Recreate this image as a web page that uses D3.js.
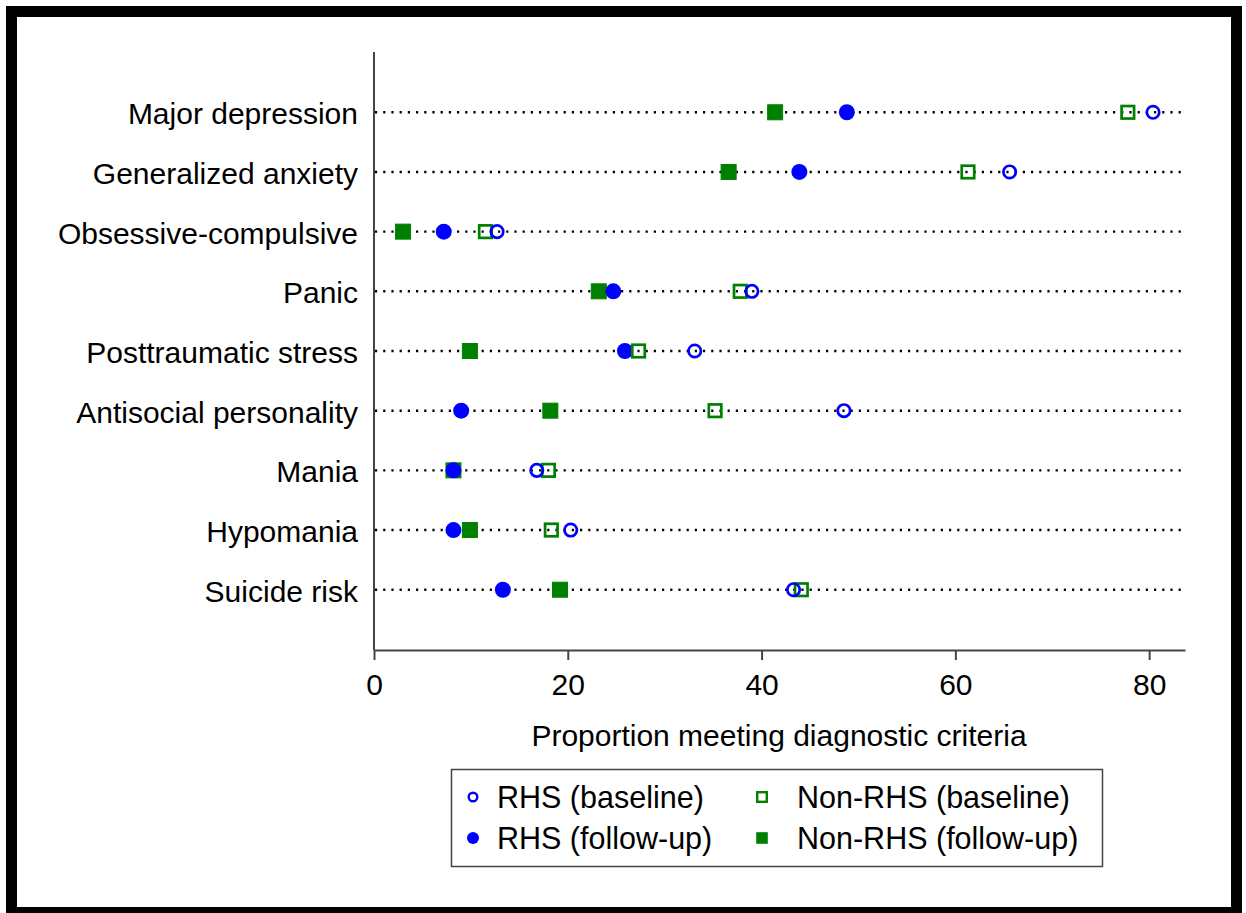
<!DOCTYPE html>
<html>
<head>
<meta charset="utf-8">
<script src="https://cdn.jsdelivr.net/npm/d3@7"></script>
<style>
  html, body { margin: 0; padding: 0; background: #fff; }
  svg { display: block; }
  text { font-family: "Liberation Sans", Arial, sans-serif; fill: #000; }
</style>
</head>
<body>
<svg id="chart" width="1246" height="913"></svg>
<script>
const categories = ["Major depression", "Generalized anxiety", "Obsessive-compulsive", "Panic",
  "Posttraumatic stress", "Antisocial personality", "Mania", "Hypomania", "Suicide risk"];
const rhsBaseline    = [80.4, 65.6, 12.7, 39.0, 33.1, 48.5, 16.8, 20.3, 43.3];
const nonRhsBaseline = [77.8, 61.3, 11.5, 37.8, 27.3, 35.2, 18.0, 18.3, 44.1];
const rhsFollowup    = [48.8, 43.9, 7.2, 24.7, 25.9, 9.0, 8.2, 8.2, 13.3];
const nonRhsFollowup = [41.4, 36.6, 3.0, 23.2, 9.9, 18.2, 8.2, 9.9, 19.2];
const xTicks = [0, 20, 40, 60, 80];
const xTitle = "Proportion meeting diagnostic criteria";
const legendLabels = ["RHS (baseline)", "Non-RHS (baseline)", "RHS (follow-up)", "Non-RHS (follow-up)"];

const BLUE = "#0000ff", GREEN = "#008000";
const svg = d3.select("#chart");

// outer frame
svg.append("rect").attr("x", 11.5).attr("y", 11.5).attr("width", 1225).attr("height", 901)
  .attr("fill", "none").attr("stroke", "#000").attr("stroke-width", 11);

const x = d3.scaleLinear().domain([0, 83.7]).range([374, 1185]);
const y = d3.scalePoint().domain(categories).range([52, 650]).padding(1.01);

// dotted guide lines
svg.append("g").selectAll("line").data(categories).join("line")
  .attr("x1", 375).attr("x2", 1185)
  .attr("y1", d => y(d)).attr("y2", d => y(d))
  .attr("stroke", "#000").attr("stroke-width", 2.4).attr("stroke-dasharray", "2.2,6");

// axes
const xAxis = svg.append("g").attr("transform", "translate(0,650)")
  .call(d3.axisBottom(x).tickValues(xTicks).tickSize(10).tickPadding(14).tickSizeOuter(0));
xAxis.select(".domain").attr("stroke", "#444").attr("stroke-width", 2);
xAxis.selectAll(".tick line").attr("stroke", "#444").attr("stroke-width", 2);
xAxis.selectAll(".tick text").attr("font-size", 30).attr("font-family", "Liberation Sans, Arial, sans-serif").attr("fill", "#000");

const yAxis = svg.append("g").attr("transform", "translate(374,0)")
  .call(d3.axisLeft(y).tickSize(0).tickPadding(16).tickSizeOuter(0));
yAxis.select(".domain").attr("d", "M0,52V650").attr("stroke", "#444").attr("stroke-width", 2);
yAxis.selectAll(".tick text").attr("font-size", 30).attr("dy", "0.38em")
  .attr("font-family", "Liberation Sans, Arial, sans-serif").attr("fill", "#000");

// x title
svg.append("text").attr("x", 779).attr("y", 746).attr("text-anchor", "middle")
  .attr("font-size", 30).text(xTitle);

// markers
const idx = categories.map((c, i) => i);
function squares(vals, filled, side, sw) {
  svg.append("g").selectAll("rect").data(idx).join("rect")
    .attr("x", i => x(vals[i]) - side / 2).attr("y", i => y(categories[i]) - side / 2)
    .attr("width", side).attr("height", side)
    .attr("fill", filled ? GREEN : "none").attr("stroke", GREEN).attr("stroke-width", sw);
}
function circles(vals, filled, r, sw) {
  svg.append("g").selectAll("circle").data(idx).join("circle")
    .attr("cx", i => x(vals[i])).attr("cy", i => y(categories[i])).attr("r", r)
    .attr("fill", filled ? BLUE : "none").attr("stroke", BLUE).attr("stroke-width", sw);
}
squares(nonRhsFollowup, true, 15, 1);
circles(rhsFollowup, true, 8, 0);
squares(nonRhsBaseline, false, 12.5, 2.7);
circles(rhsBaseline, false, 6.2, 2.7);

// legend
const lg = svg.append("g");
lg.append("rect").attr("x", 451.5).attr("y", 769.5).attr("width", 651).attr("height", 97)
  .attr("fill", "#fff").attr("stroke", "#444").attr("stroke-width", 1.5);
const rows = [797, 838];
const cols = [473, 762];
const textX = [497, 797];
// RHS baseline
lg.append("circle").attr("cx", cols[0]).attr("cy", rows[0]).attr("r", 4.3)
  .attr("fill", "none").attr("stroke", BLUE).attr("stroke-width", 2.4);
// RHS follow-up
lg.append("circle").attr("cx", cols[0]).attr("cy", rows[1]).attr("r", 6).attr("fill", BLUE);
// Non-RHS baseline
lg.append("rect").attr("x", cols[1] - 4.8).attr("y", rows[0] - 4.8).attr("width", 9.6).attr("height", 9.6)
  .attr("fill", "none").attr("stroke", GREEN).attr("stroke-width", 2.4);
// Non-RHS follow-up
lg.append("rect").attr("x", cols[1] - 5.8).attr("y", rows[1] - 5.8).attr("width", 11.6).attr("height", 11.6)
  .attr("fill", GREEN);
const legendPos = [[0, 0], [1, 0], [0, 1], [1, 1]];
lg.selectAll("text.lab").data(legendLabels).join("text").attr("class", "lab")
  .attr("x", (d, i) => textX[legendPos[i][0]])
  .attr("y", (d, i) => rows[legendPos[i][1]])
  .attr("dy", "0.36em").attr("font-size", 30.5).text(d => d);
</script>
</body>
</html>
